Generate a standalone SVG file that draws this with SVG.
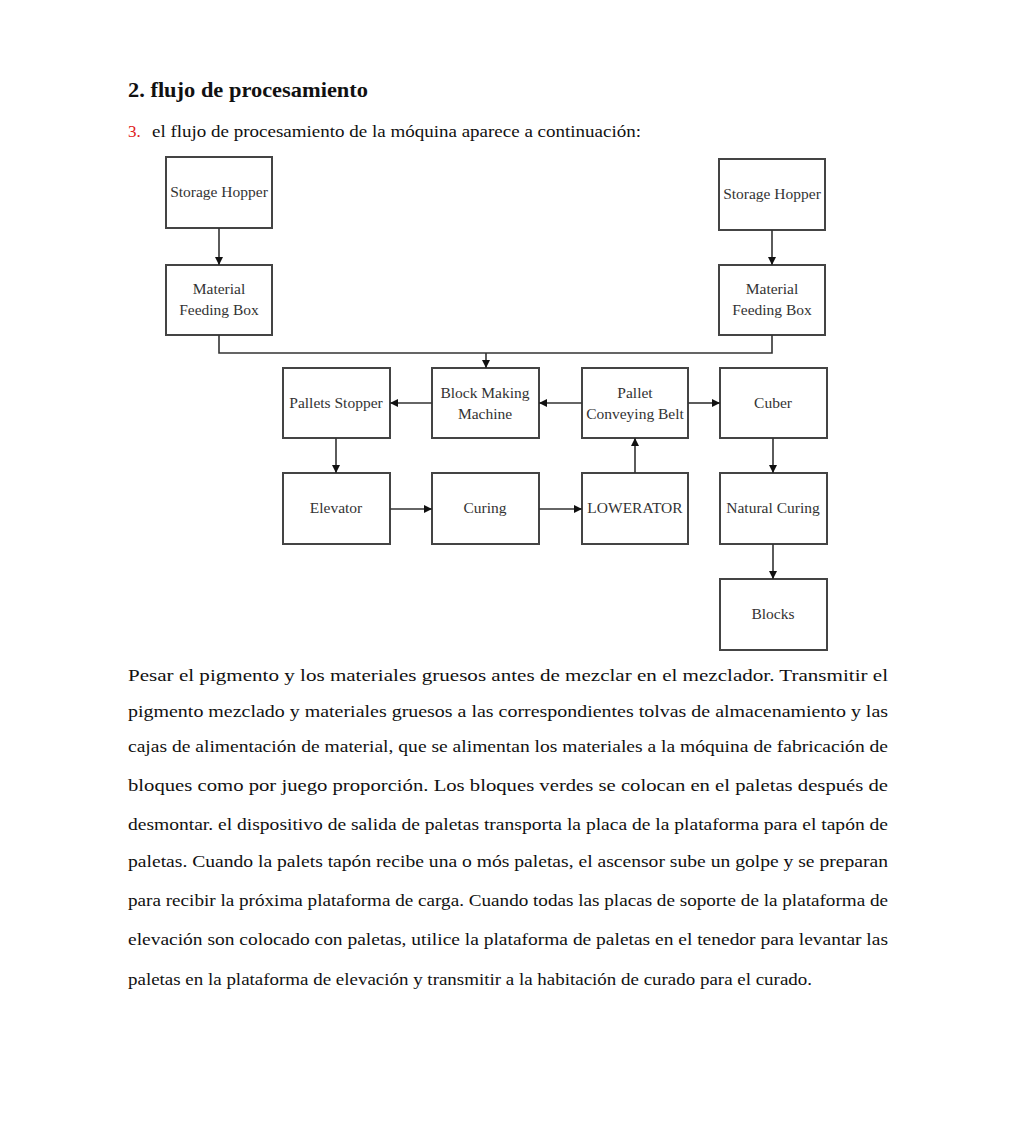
<svg xmlns="http://www.w3.org/2000/svg" width="1026" height="1122" viewBox="0 0 1026 1122">
<style>
.box{fill:#fff;stroke:#444;stroke-width:2}
.lbl{font-family:"Liberation Serif",serif;font-size:15.5px;fill:#333;text-anchor:middle}
.con{fill:none;stroke:#333;stroke-width:1.6}
.body{font-family:"Liberation Serif",serif;font-size:17px;fill:#111}
</style>
<defs>
<marker id="ah" viewBox="0 0 10 10" refX="10" refY="5" markerWidth="8" markerHeight="8" markerUnits="userSpaceOnUse" orient="auto">
<path d="M0,0 L10,5 L0,10 z" fill="#111"/>
</marker>
</defs>
<rect width="1026" height="1122" fill="#fff"/>
<text x="128" y="97" font-family="Liberation Serif,serif" font-size="21" font-weight="bold" fill="#111" textLength="240" lengthAdjust="spacingAndGlyphs">2. flujo de procesamiento</text>
<text x="128" y="137" font-family="Liberation Serif,serif" font-size="17" fill="#e02020">3.</text>
<text x="152" y="137" font-family="Liberation Serif,serif" font-size="17" fill="#111" textLength="489" lengthAdjust="spacingAndGlyphs">el flujo de procesamiento de la móquina aparece a continuación:</text>

<g id="n-storage-left"><rect class="box" x="166" y="157" width="106" height="71"/><text class="lbl" x="219" y="197">Storage Hopper</text></g>
<g id="n-feed-left"><rect class="box" x="166" y="265" width="106" height="70"/><text class="lbl" x="219" y="294">Material</text><text class="lbl" x="219" y="315">Feeding Box</text></g>
<g id="n-storage-right"><rect class="box" x="719" y="159" width="106" height="71"/><text class="lbl" x="772" y="199">Storage Hopper</text></g>
<g id="n-feed-right"><rect class="box" x="719" y="265" width="106" height="70"/><text class="lbl" x="772" y="294">Material</text><text class="lbl" x="772" y="315">Feeding Box</text></g>
<g id="n-stopper"><rect class="box" x="283" y="368" width="107" height="70"/><text class="lbl" x="336" y="408">Pallets Stopper</text></g>
<g id="n-bmm"><rect class="box" x="432" y="368" width="107" height="70"/><text class="lbl" x="485" y="398">Block Making</text><text class="lbl" x="485" y="419">Machine</text></g>
<g id="n-pcb"><rect class="box" x="582" y="368" width="106" height="70"/><text class="lbl" x="635" y="398">Pallet</text><text class="lbl" x="635" y="419">Conveying Belt</text></g>
<g id="n-cuber"><rect class="box" x="720" y="368" width="107" height="70"/><text class="lbl" x="773" y="408">Cuber</text></g>
<g id="n-elevator"><rect class="box" x="283" y="473" width="107" height="71"/><text class="lbl" x="336" y="513">Elevator</text></g>
<g id="n-curing"><rect class="box" x="432" y="473" width="107" height="71"/><text class="lbl" x="485" y="513">Curing</text></g>
<g id="n-lowerator"><rect class="box" x="582" y="473" width="106" height="71"/><text class="lbl" x="635" y="513">LOWERATOR</text></g>
<g id="n-natural"><rect class="box" x="720" y="473" width="107" height="71"/><text class="lbl" x="773" y="513">Natural Curing</text></g>
<g id="n-blocks"><rect class="box" x="720" y="579" width="107" height="71"/><text class="lbl" x="773" y="619">Blocks</text></g>

<g id="connectors">
<line class="con" x1="219" y1="228" x2="219" y2="265" marker-end="url(#ah)"/>
<line class="con" x1="772" y1="230" x2="772" y2="265" marker-end="url(#ah)"/>
<polyline class="con" points="219,335 219,353 772,353 772,335"/>
<line class="con" x1="486" y1="353" x2="486" y2="368" marker-end="url(#ah)"/>
<line class="con" x1="432" y1="403" x2="390" y2="403" marker-end="url(#ah)"/>
<line class="con" x1="582" y1="403" x2="539" y2="403" marker-end="url(#ah)"/>
<line class="con" x1="688" y1="403" x2="720" y2="403" marker-end="url(#ah)"/>
<line class="con" x1="336" y1="438" x2="336" y2="473" marker-end="url(#ah)"/>
<line class="con" x1="390" y1="509" x2="432" y2="509" marker-end="url(#ah)"/>
<line class="con" x1="539" y1="509" x2="582" y2="509" marker-end="url(#ah)"/>
<line class="con" x1="635" y1="473" x2="635" y2="438" marker-end="url(#ah)"/>
<line class="con" x1="773" y1="438" x2="773" y2="473" marker-end="url(#ah)"/>
<line class="con" x1="773" y1="544" x2="773" y2="579" marker-end="url(#ah)"/>
</g>

<g id="paragraph">
<text class="body" x="128" y="681" textLength="760" lengthAdjust="spacingAndGlyphs">Pesar el pigmento y los materiales gruesos antes de mezclar en el mezclador. Transmitir el</text>
<text class="body" x="128" y="717" textLength="760" lengthAdjust="spacingAndGlyphs">pigmento mezclado y materiales gruesos a las correspondientes tolvas de almacenamiento y las</text>
<text class="body" x="128" y="752" textLength="760" lengthAdjust="spacingAndGlyphs">cajas de alimentación de material, que se alimentan los materiales a la móquina de fabricación de</text>
<text class="body" x="128" y="791" textLength="760" lengthAdjust="spacingAndGlyphs">bloques como por juego proporción. Los bloques verdes se colocan en el paletas después de</text>
<text class="body" x="128" y="830" textLength="760" lengthAdjust="spacingAndGlyphs">desmontar. el dispositivo de salida de paletas transporta la placa de la plataforma para el tapón de</text>
<text class="body" x="128" y="867" textLength="760" lengthAdjust="spacingAndGlyphs">paletas. Cuando la palets tapón recibe una o mós paletas, el ascensor sube un golpe y se preparan</text>
<text class="body" x="128" y="906" textLength="760" lengthAdjust="spacingAndGlyphs">para recibir la próxima plataforma de carga. Cuando todas las placas de soporte de la plataforma de</text>
<text class="body" x="128" y="945" textLength="760" lengthAdjust="spacingAndGlyphs">elevación son colocado con paletas, utilice la plataforma de paletas en el tenedor para levantar las</text>
<text class="body" x="128" y="985" textLength="684" lengthAdjust="spacingAndGlyphs">paletas en la plataforma de elevación y transmitir a la habitación de curado para el curado.</text>
</g>
</svg>
